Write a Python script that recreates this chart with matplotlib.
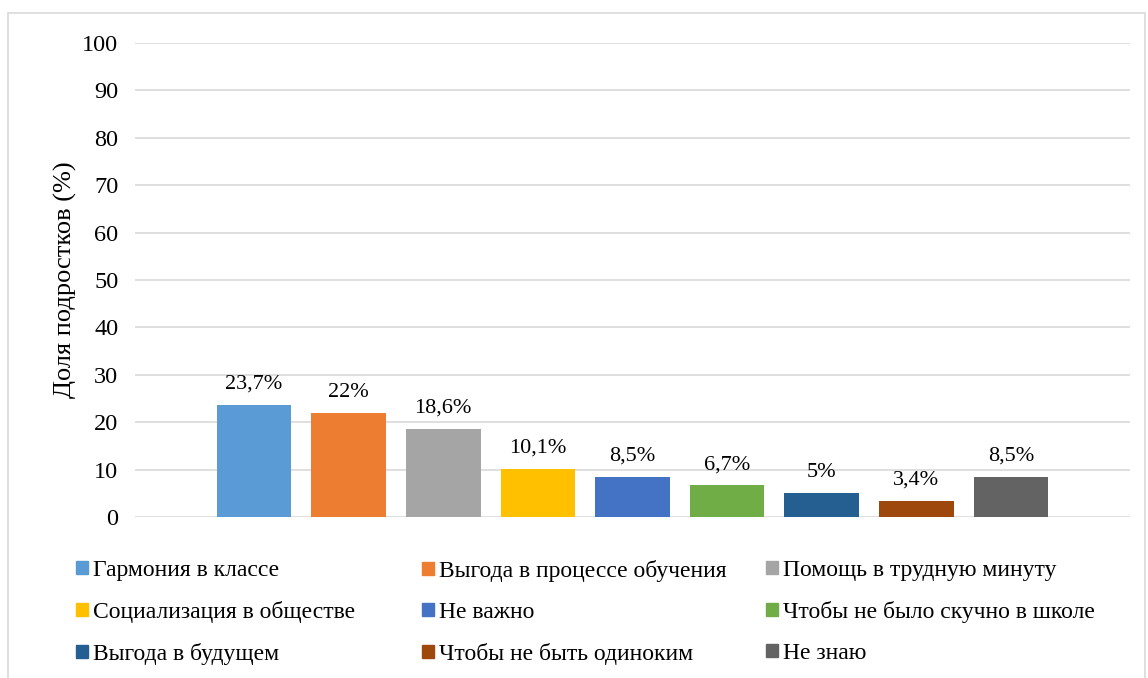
import numpy as np
import matplotlib.pyplot as plt
from matplotlib.patches import Rectangle, Patch

categories = ["Гармония в классе", "Выгода в процессе обучения", "Помощь в трудную минуту",
              "Социализация в обществе", "Не важно", "Чтобы не было скучно в школе",
              "Выгода в будущем", "Чтобы не быть одиноким", "Не знаю"]
values = [23.7, 22, 18.6, 10.1, 8.5, 6.7, 5, 3.4, 8.5]
labels = ["23,7%", "22%", "18,6%", "10,1%", "8,5%", "6,7%", "5%", "3,4%", "8,5%"]
colors = ["#5B9BD5", "#ED7D31", "#A5A5A5", "#FFC000", "#4472C4",
          "#70AD47", "#255E91", "#9E480E", "#636363"]
yticks = [0, 10, 20, 30, 40, 50, 60, 70, 80, 90, 100]

plt.rcParams['font.family'] = ['Liberation Serif', 'DejaVu Serif']

W, H = 1148, 678
fig = plt.figure(figsize=(W / 100, H / 100), dpi=100)

# chart border
fig.patches.append(Rectangle((8 / W, -0.05), 1137 / W, 1 - 13 / H + 0.05,
                             transform=fig.transFigure, fill=False,
                             edgecolor="#d9d9d9", linewidth=1.2))

ax = fig.add_axes([135 / W, 1 - 517 / H, 995 / W, 474 / H])
x = np.arange(len(values))
bars = ax.bar(x, values, width=0.79, color=colors, zorder=3)

for b, lab in zip(bars, labels):
    ax.annotate(lab, (b.get_x() + b.get_width() / 2, b.get_height()),
                xytext=(0, 8), textcoords="offset points",
                ha="center", va="bottom", fontsize=16)

ax.set_xlim(-1.258, 9.258)
ax.set_ylim(0, 100)
ax.set_yticks(yticks)
ax.set_xticks([])
ax.tick_params(axis="y", length=0, pad=12, labelsize=17.5)
ax.grid(axis="y", color="#d9d9d9", linewidth=1.2, zorder=0)
for s in ax.spines.values():
    s.set_visible(False)
ax.set_ylabel("Доля подростков (%)", fontsize=19, labelpad=4)

# legend: three columns, Excel-style even spacing
col_x = [76, 422, 766]
for c in range(3):
    idx = [c, c + 3, c + 6]
    handles = [Patch(color=colors[i]) for i in idx]
    fig.legend(handles, [categories[i] for i in idx], loc="upper left",
               bbox_to_anchor=(col_x[c] / W, 1 - 560 / H), frameon=False,
               fontsize=17, handlelength=0.5, handleheight=0.5,
               handletextpad=0.2, labelspacing=0.85, borderpad=0,
               borderaxespad=0)

fig.savefig("out.png", dpi=100)
